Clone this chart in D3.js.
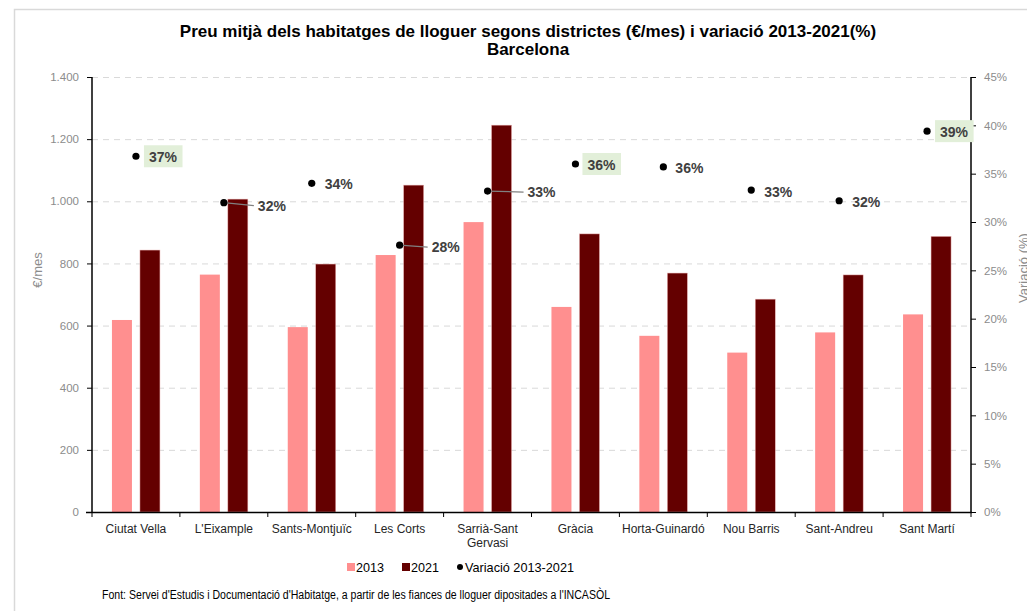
<!DOCTYPE html>
<html><head><meta charset="utf-8">
<script src="https://cdn.jsdelivr.net/npm/d3@7/dist/d3.min.js"></script>
<style>body{margin:0;background:#fff;}svg{display:block;font-family:"Liberation Sans",Arial,sans-serif;}</style>
</head><body><svg id="c" width="1027" height="611"></svg>
<script>
const districts = ["Ciutat Vella","L'Eixample","Sants-Montjuïc","Les Corts","Sarrià-Sant Gervasi","Gràcia","Horta-Guinardó","Nou Barris","Sant-Andreu","Sant Martí"];
const values2013 = [618, 764, 595, 827, 933, 660, 567, 513, 578, 636];
const values2021 = [843, 1007, 798, 1052, 1245, 895, 769, 685, 763, 887];
const variation = [36.8, 32.0, 34.0, 27.6, 33.2, 36.0, 35.7, 33.3, 32.2, 39.4];
const variationLabels = ["37%","32%","34%","28%","33%","36%","36%","33%","32%","39%"];
const highlighted = [true,false,false,false,false,true,false,false,false,true];
const leftTicks = [0,200,400,600,800,1000,1200,1400];
const rightTicks = [0,5,10,15,20,25,30,35,40,45];

const svg = d3.select("#c");
const L = 92, R = 971, T = 77, B = 512;
const x = d3.scaleBand().domain(districts).range([L, R]);
const y = d3.scaleLinear().domain([0, 1400]).range([B, T]);
const y2 = d3.scaleLinear().domain([0, 45]).range([B, T]);
const fmt = d3.format(",");
const fmtCa = v => fmt(v).replace(/,/g, ".");

// outer border
svg.append("path").attr("d", "M14.5,611V9.5H1027").attr("fill","none").attr("stroke","#d9d9d9").attr("stroke-width",1.5);

// title
const title = svg.append("text").attr("text-anchor","middle").attr("font-weight","bold").attr("font-size",17).attr("fill","#000");
title.append("tspan").attr("x",528).attr("y",37).text("Preu mitjà dels habitatges de lloguer segons districtes (€/mes) i variació 2013-2021(%)");
title.append("tspan").attr("x",528).attr("y",55).text("Barcelona");

// gridlines
svg.append("g").selectAll("line").data(leftTicks.filter(d=>d>0)).join("line")
  .attr("x1", L).attr("x2", R).attr("y1", d=>y(d)+0.5).attr("y2", d=>y(d)+0.5)
  .attr("stroke","#d9d9d9").attr("stroke-dasharray","6,5");

// bars
const bw = 20, gap = 4;
svg.append("g").selectAll("rect").data(districts).join("rect")
  .attr("x", d => x(d) + x.bandwidth()/2 - gap - bw).attr("width", bw)
  .attr("y", (d,i) => y(values2013[i])).attr("height", (d,i) => B - y(values2013[i]))
  .attr("fill","#ff8f8f");
svg.append("g").selectAll("rect").data(districts).join("rect")
  .attr("x", d => x(d) + x.bandwidth()/2 + gap).attr("width", bw)
  .attr("y", (d,i) => y(values2021[i])).attr("height", (d,i) => B - y(values2021[i]))
  .attr("fill","#640000").attr("stroke","#e8b0b0").attr("stroke-width",0.5);

// axes
const axL = svg.append("g").attr("transform",`translate(${L},0)`)
  .call(d3.axisLeft(y).tickValues(leftTicks).tickFormat(fmtCa).tickSize(5).tickPadding(8));
const axR = svg.append("g").attr("transform",`translate(${R},0)`)
  .call(d3.axisRight(y2).tickValues(rightTicks).tickFormat(d=>d+"%").tickSize(5).tickPadding(8));
[axL, axR].forEach(a => {
  a.select(".domain").attr("stroke","#000").attr("stroke-width",1.5).attr("d", `M0,${B}V${T}`);
  a.selectAll(".tick line").attr("stroke","#000");
  a.selectAll("text").attr("fill","#8c8c8c").attr("font-size",11.5).attr("font-family","Liberation Sans, Arial, sans-serif");
});

// bottom axis
const gB = svg.append("g");
gB.append("line").attr("x1",L-6).attr("x2",R+1).attr("y1",B+0.5).attr("y2",B+0.5).attr("stroke","#000").attr("stroke-width",1.5);
gB.selectAll("line.t").data(d3.range(districts.length+1)).join("line").attr("class","t")
  .attr("x1", i => L + i*x.step()).attr("x2", i => L + i*x.step())
  .attr("y1", B).attr("y2", B+5).attr("stroke","#000");
gB.selectAll("text").data(districts).join("text")
  .attr("x", d => x(d) + x.bandwidth()/2).attr("y", B+21)
  .attr("text-anchor","middle").attr("font-size",12).attr("fill","#262626")
  .each(function(d){
    const t = d3.select(this);
    if (d === "Sarrià-Sant Gervasi") {
      t.append("tspan").attr("x", x(d)+x.bandwidth()/2).attr("dy",0).text("Sarrià-Sant");
      t.append("tspan").attr("x", x(d)+x.bandwidth()/2).attr("dy",14).text("Gervasi");
    } else t.text(d);
  });

// axis titles
svg.append("text").attr("transform","translate(42,270) rotate(-90)").attr("text-anchor","middle")
  .attr("font-size",13).attr("fill","#8c8c8c").text("€/mes");
svg.append("text").attr("transform","translate(1028,268) rotate(-90)").attr("text-anchor","middle")
  .attr("font-size",13).attr("fill","#8c8c8c").text("Variació (%)");

// variation label offsets (dx, dy) relative to the dot
const labelDx = [13, 34, 13, 32, 40, 12, 12, 13, 13, 13];
const labelDy = [1, 3, 1, 2, 1, 1, 1, 2, 1, 1];
const leader = [false,true,false,true,true,false,false,false,false,false];
const gV = svg.append("g");
districts.forEach((d,i) => {
  const cx = x(d) + x.bandwidth()/2, cy = y2(variation[i]);
  const lx = cx + labelDx[i], ly = cy + labelDy[i];
  if (leader[i]) {
    gV.append("line").attr("x1",cx).attr("y1",cy).attr("x2",lx-4).attr("y2",ly)
      .attr("stroke","#808080").attr("stroke-width",1.2);
  }
  const t = gV.append("text").attr("x", lx).attr("y", ly).attr("dy","0.35em")
    .attr("font-size",14).attr("font-weight","bold").attr("fill","#404040").text(variationLabels[i]);
  if (highlighted[i]) {
    const bb = t.node().getBBox();
    gV.insert("rect","text").attr("x", bb.x-5).attr("y", cy-11).attr("width", bb.width+10).attr("height", 22)
      .attr("fill","#e2efd9");
  }
  gV.append("circle").attr("cx",cx).attr("cy",cy).attr("r",3.6).attr("fill","#000");
});

// legend
const lg = svg.append("g").attr("font-size",13.5).attr("fill","#000");
lg.append("rect").attr("x",347).attr("y",563).attr("width",8).attr("height",8).attr("fill","#ff8f8f");
lg.append("text").attr("x",356).attr("y",572).attr("textLength",28).attr("lengthAdjust","spacingAndGlyphs").text("2013");
lg.append("rect").attr("x",402).attr("y",563).attr("width",8).attr("height",8).attr("fill","#640000");
lg.append("text").attr("x",411).attr("y",572).attr("textLength",28).attr("lengthAdjust","spacingAndGlyphs").text("2021");
lg.append("circle").attr("cx",460).attr("cy",567).attr("r",3).attr("fill","#000");
lg.append("text").attr("x",465).attr("y",572).attr("textLength",109).attr("lengthAdjust","spacingAndGlyphs").text("Variació 2013-2021");

// source
svg.append("text").attr("x",102).attr("y",599).attr("font-size",12.5).attr("fill","#000")
  .attr("textLength",508).attr("lengthAdjust","spacingAndGlyphs")
  .text("Font: Servei d'Estudis i Documentació d'Habitatge, a partir de les fiances de lloguer dipositades a l'INCASÒL");
</script></body></html>
